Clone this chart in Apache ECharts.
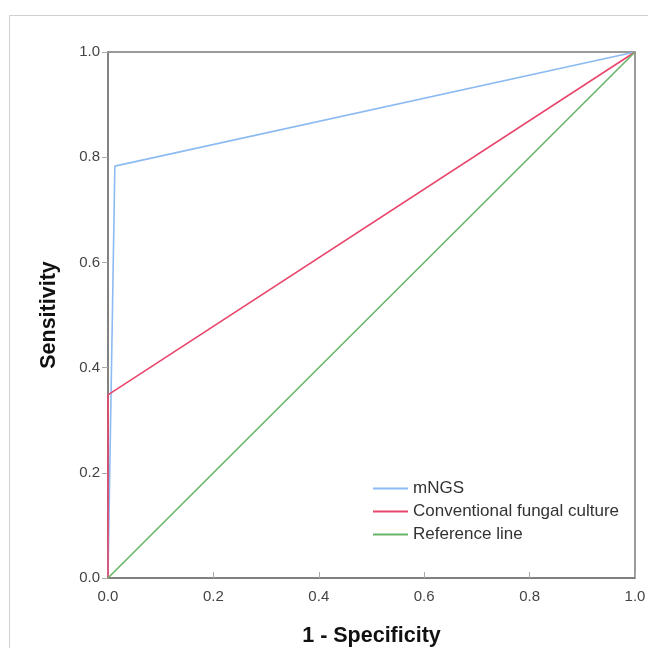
<!DOCTYPE html>
<html>
<head>
<meta charset="utf-8">
<script src="https://cdn.jsdelivr.net/npm/echarts@6/dist/echarts.min.js"></script>
<style>
  html, body { margin: 0; padding: 0; background: #fff; }
  #roc { width: 648px; height: 648px; }
</style>
</head>
<body>
<div id="roc"></div>
<script>
// ROC curves, x = 1 - specificity, y = sensitivity
var seriesNames = ["mNGS", "Conventional fungal culture", "Reference line"];
var mngsX = [0, 0.013, 1];
var mngsY = [0, 0.783, 1];
var cultureX = [0, 0, 1];
var cultureY = [0, 0.348, 1];
var refX = [0, 1];
var refY = [0, 1];
var colors = ["#8cbaf2", "#e8466c", "#68b468"];

function pairs(xs, ys) {
  var out = [];
  for (var i = 0; i < xs.length; i++) out.push([xs[i], ys[i]]);
  return out;
}

var chart = echarts.init(document.getElementById("roc"));
var labelFont = { fontFamily: "Liberation Sans", fontSize: 15, color: "#444" };
var titleFont = { fontFamily: "Liberation Sans", fontSize: 21.5, fontWeight: "bold", color: "#111" };

chart.setOption({
  animation: false,
  textStyle: { fontFamily: "Liberation Sans" },
  graphic: [{
    type: "rect",
    shape: { x: 9.5, y: 15.5, width: 700, height: 700 },
    style: { fill: "none", stroke: "#d0d0d0", lineWidth: 1 },
    silent: true
  }],
  grid: {
    left: 108, top: 52, right: 13, bottom: 70,
    outerBoundsMode: "none", containLabel: false,
    show: true, borderColor: "#7a7a7a", borderWidth: 1.5, backgroundColor: "transparent"
  },
  legend: {
    orient: "vertical",
    left: 368, top: 475,
    icon: "rect",
    itemWidth: 35, itemHeight: 2, itemGap: 6,
    data: seriesNames,
    textStyle: { fontFamily: "Liberation Sans", fontSize: 17, color: "#333" }
  },
  xAxis: {
    type: "value", min: 0, max: 1, interval: 0.2,
    name: "1 - Specificity", nameLocation: "middle", nameGap: 47,
    nameTextStyle: titleFont,
    axisLine: { show: true, lineStyle: { color: "#7a7a7a", width: 1.5 } },
    axisTick: { show: true, inside: true, length: 6, lineStyle: { color: "#aaa" } },
    axisLabel: Object.assign({ margin: 11, formatter: function (v) { return v.toFixed(1); } }, labelFont),
    splitLine: { show: false }
  },
  yAxis: {
    type: "value", min: 0, max: 1, interval: 0.2,
    name: "Sensitivity", nameLocation: "middle", nameGap: 48, nameRotate: 90,
    nameTextStyle: titleFont,
    axisLine: { show: true, lineStyle: { color: "#7a7a7a", width: 1.5 } },
    axisTick: { show: true, inside: false, length: 6, lineStyle: { color: "#aaa" } },
    axisLabel: Object.assign({ margin: 8, formatter: function (v) { return v.toFixed(1); } }, labelFont),
    splitLine: { show: false }
  },
  series: [
    { name: seriesNames[0], type: "line", data: pairs(mngsX, mngsY), symbol: "none",
      lineStyle: { color: colors[0], width: 1.6 }, itemStyle: { color: colors[0] } },
    { name: seriesNames[1], type: "line", data: pairs(cultureX, cultureY), symbol: "none",
      lineStyle: { color: colors[1], width: 1.6 }, itemStyle: { color: colors[1] } },
    { name: seriesNames[2], type: "line", data: pairs(refX, refY), symbol: "none",
      lineStyle: { color: colors[2], width: 1.6 }, itemStyle: { color: colors[2] } }
  ]
});
</script>
</body>
</html>
